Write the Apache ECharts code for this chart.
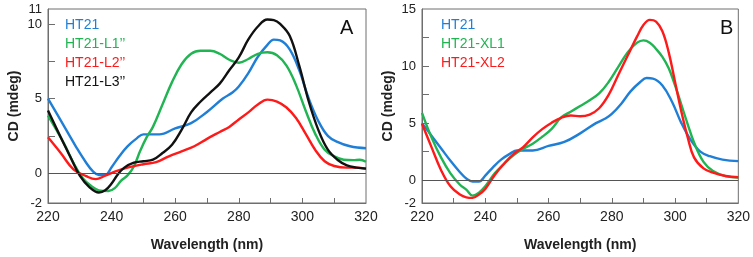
<!DOCTYPE html>
<html>
<head>
<meta charset="utf-8">
<script src="https://cdn.jsdelivr.net/npm/echarts@6/dist/echarts.min.js"></script>
<style>
  html, body { margin: 0; padding: 0; background: #fff; }
  #chart { width: 753px; height: 257px; }
</style>
</head>
<body>
<div id="chart"></div>
<script>
  // wavelengths (nm) and CD values (mdeg)
  const wlA = [220, 224, 227, 230, 233, 236, 238, 240, 242, 244, 247, 250, 253, 256, 259, 262, 265, 268, 271, 274, 277, 280, 283, 286, 289, 291, 293, 296, 299, 302, 305, 308, 311, 314, 317, 320]

  const wlHT21 = [220, 223, 226, 229, 232, 234, 236, 238, 240, 242.5, 245, 248, 250, 255, 260, 265, 270, 275, 278, 280, 283, 286, 289, 291, 293, 296, 299, 302, 305, 308, 311, 315, 320]
  const ht21 = [5.0, 3.9, 2.8, 1.7, 0.7, 0.15, -0.12, -0.12, 0.4, 1.15, 1.8, 2.35, 2.6, 2.6, 3.0, 3.35, 4.1, 5.0, 5.4, 5.8, 6.7, 7.8, 8.6, 8.95, 8.9, 8.3, 6.9, 5.0, 3.5, 2.5, 2.1, 1.8, 1.67]

  const wlL1 = [220, 225, 228, 231, 234, 236, 239, 241, 243, 245, 247, 249, 251, 253, 256, 259, 262, 265, 268, 271, 274, 277, 280, 283, 286, 289, 292, 295, 298, 301, 304, 307, 310, 313, 316, 318, 320]
  const ht21L1 = [3.85, 2.0, 0.7, -0.35, -0.93, -1.15, -1.2, -1.0, -0.5, -0.15, 0.45, 1.5, 2.4, 3.1, 4.6, 6.1, 7.3, 8.0, 8.2, 8.2, 8.0, 7.6, 7.4, 7.65, 8.0, 8.1, 7.9, 7.2, 5.9, 4.2, 2.65, 1.57, 1.13, 0.9, 0.87, 0.9, 0.76]

  const wlL2 = [220, 224, 228, 232, 235, 238, 241, 245, 250, 254, 258, 262, 266, 270, 274, 277, 280, 283, 286, 289, 292, 295, 298, 301, 304, 307, 310, 314, 317, 320]
  const ht21L2 = [2.4, 1.35, 0.26, -0.2, -0.4, -0.17, 0.1, 0.37, 0.6, 0.74, 1.13, 1.46, 1.8, 2.3, 2.76, 3.1, 3.6, 4.07, 4.6, 4.93, 4.8, 4.4, 3.7, 2.65, 1.57, 0.8, 0.48, 0.37, 0.37, 0.3]

  const ht21L3 = [4.2, 2.4, 1.1, -0.17, -0.93, -1.3, -1.15, -0.7, -0.07, 0.37, 0.7, 0.8, 0.9, 1.35, 1.9, 2.9, 4.07, 4.8, 5.4, 6.0, 6.9, 7.76, 8.96, 9.83, 10.3, 10.26, 10.0, 9.2, 7.2, 4.8, 2.9, 1.57, 0.9, 0.52, 0.37, 0.3]

  const wlB = [220, 223, 226, 229, 232, 234, 236, 238, 240, 243, 246, 249, 252, 255, 258, 261, 264, 267, 270, 273, 276, 279, 282, 285, 288, 290, 292, 294, 296, 298, 300, 302, 304, 306, 309, 312, 316, 320]
  const ht21XL1 = [5.9, 3.75, 2.0, 0.6, -0.4, -0.83, -1.35, -1.1, -0.54, 0.6, 1.46, 2.2, 2.75, 3.2, 3.8, 4.5, 5.5, 6.0, 6.5, 7.0, 7.6, 8.6, 9.9, 11.2, 12.05, 12.25, 12.05, 11.5, 10.8, 9.8, 8.3, 6.6, 4.9, 3.3, 1.6, 0.8, 0.35, 0.23]
  const ht21XL2 = [4.95, 2.9, 0.9, -0.54, -1.26, -1.5, -1.55, -1.26, -0.77, 0.46, 1.46, 2.3, 2.9, 3.75, 4.47, 5.04, 5.47, 5.67, 5.6, 5.75, 6.3, 7.47, 9.2, 10.9, 12.6, 13.6, 14.05, 13.9, 13.05, 11.2, 8.6, 6.0, 3.75, 2.0, 1.03, 0.66, 0.37, 0.26]

  const xLabels = [220, 240, 260, 280, 300, 320]
  const xTicks = [230, 240, 250, 260, 270, 280, 290, 300, 310]
  const yLabelsA = [-2, 0, 5, 10, 11]
  const yTicksA = [2.5, 5, 7.5, 10]
  const yLabelsB = [-2, 0, 5, 10, 15]
  const yTicksB = [2.5, 5, 7.5, 10, 12.5]

  const BLUE = '#1f7fd6'
  const GREEN = '#20b452'
  const RED = '#ff1a1a'
  const BLACK = '#111111'
  const FRAME = '#6e6e6e'
  const FONT = 'Liberation Sans, Arial, sans-serif'

  const pairs = (xs, ys) => xs.map((x, i) => [x, ys[i]])

  const xAxis = (idx) => ({
    type: 'value', gridIndex: idx, min: 220, max: 320,
    name: 'Wavelength (nm)', nameLocation: 'middle', nameGap: 35,
    nameTextStyle: { fontFamily: FONT, fontSize: 14, fontWeight: 'bold', color: '#222' },
    axisLine: { show: true, onZero: false, lineStyle: { color: FRAME } },
    axisTick: { show: true, inside: true, length: 5, customValues: xTicks, lineStyle: { color: FRAME } },
    axisLabel: { customValues: xLabels, fontFamily: FONT, fontSize: 14, color: '#222', margin: 7 },
    splitLine: { show: false }
  })

  const yAxis = (idx, max, labels, ticks) => ({
    type: 'value', gridIndex: idx, min: -2, max: max,
    name: 'CD (mdeg)', nameLocation: 'middle', nameGap: 27,
    nameTextStyle: { fontFamily: FONT, fontSize: 14, fontWeight: 'bold', color: '#222' },
    axisLine: { show: true, lineStyle: { color: FRAME } },
    axisTick: { show: true, inside: true, length: 7, customValues: ticks, lineStyle: { color: FRAME } },
    axisLabel: { customValues: labels, fontFamily: FONT, fontSize: 13, color: '#222', margin: 6 },
    splitLine: { show: false }
  })

  const line = (name, color, data, idx, extra) => Object.assign({
    name: name, type: 'line', xAxisIndex: idx, yAxisIndex: idx,
    data: data, smooth: 0.4, showSymbol: false, symbol: 'none',
    lineStyle: { color: color, width: 2.4 }, itemStyle: { color: color },
    z: 3
  }, extra || {})

  const zeroLine = {
    silent: true, symbol: 'none', label: { show: false },
    lineStyle: { color: '#555', width: 1, type: 'solid' },
    data: [{ yAxis: 0 }]
  }

  const legendItem = (name, color) => ({ name: name, icon: 'none', textStyle: { color: color } })

  const chart = echarts.init(document.getElementById('chart'), null, { renderer: 'canvas' })
  chart.setOption({
    animation: false,
    backgroundColor: '#fff',
    grid: [
      { left: 48, top: 9, width: 318, height: 199, show: true, borderColor: FRAME, borderWidth: 1 },
      { left: 422, top: 9, width: 318, height: 199, show: true, borderColor: FRAME, borderWidth: 1 }
    ],
    title: [
      { text: 'A', left: 340, top: 18, padding: 0, textStyle: { fontFamily: FONT, fontSize: 20, fontWeight: 'normal', color: '#111' } },
      { text: 'B', left: 720, top: 18, padding: 0, textStyle: { fontFamily: FONT, fontSize: 20, fontWeight: 'normal', color: '#111' } }
    ],
    legend: [
      {
        left: 60, top: 18, orient: 'vertical', padding: 0, itemGap: 5, itemWidth: 0, itemHeight: 14,
        textStyle: { fontFamily: FONT, fontSize: 14 },
        selectedMode: false,
        data: [legendItem('HT21', BLUE), legendItem('HT21-L1\u2019\u2019', GREEN), legendItem('HT21-L2\u2019\u2019', RED), legendItem('HT21-L3\u2019\u2019', BLACK)]
      },
      {
        left: 436, top: 18, orient: 'vertical', padding: 0, itemGap: 5, itemWidth: 0, itemHeight: 14,
        textStyle: { fontFamily: FONT, fontSize: 14 },
        selectedMode: false,
        data: [legendItem('HT21 ', BLUE), legendItem('HT21-XL1', GREEN), legendItem('HT21-XL2', RED)]
      }
    ],
    xAxis: [xAxis(0), xAxis(1)],
    yAxis: [yAxis(0, 11, yLabelsA, yTicksA), yAxis(1, 15, yLabelsB, yTicksB)],
    series: [
      line('HT21', BLUE, pairs(wlHT21, ht21), 0, { markLine: zeroLine }),
      line('HT21-L1\u2019\u2019', GREEN, pairs(wlL1, ht21L1), 0),
      line('HT21-L2\u2019\u2019', RED, pairs(wlL2, ht21L2), 0),
      line('HT21-L3\u2019\u2019', BLACK, pairs(wlA, ht21L3), 0),
      line('HT21 ', BLUE, pairs(wlHT21, ht21), 1, { markLine: zeroLine }),
      line('HT21-XL1', GREEN, pairs(wlB, ht21XL1), 1),
      line('HT21-XL2', RED, pairs(wlB, ht21XL2), 1)
    ]
  })
</script>
</body>
</html>
